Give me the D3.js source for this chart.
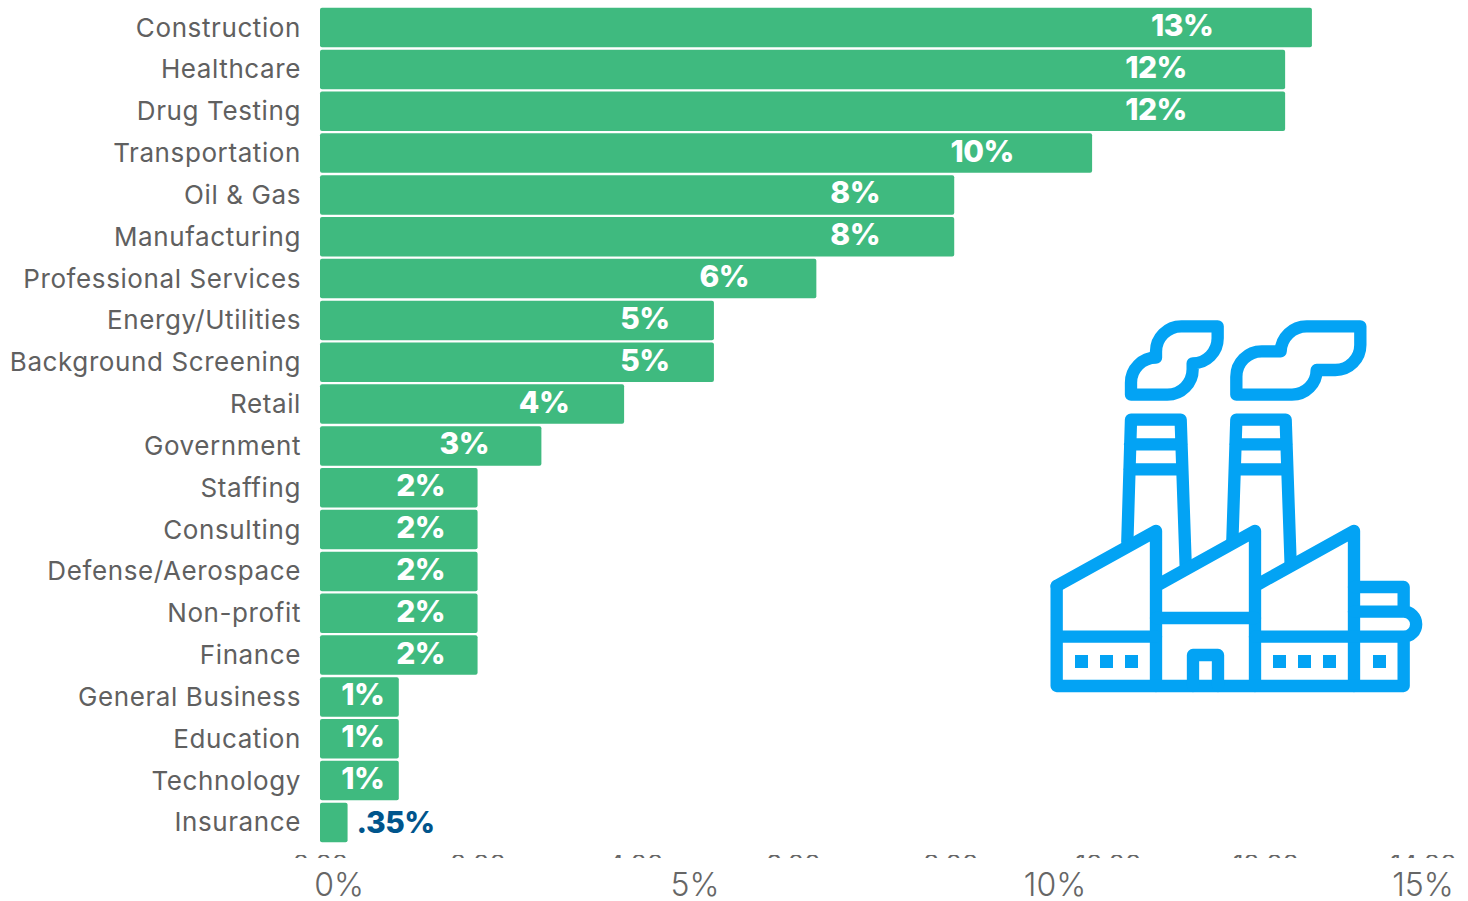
<!DOCTYPE html>
<html>
<head>
<meta charset="utf-8">
<script src="https://cdn.jsdelivr.net/npm/d3@7"></script>
<style>
  html, body { margin: 0; padding: 0; background: #fff; }
  svg { display: block; }
  text { font-family: Inter, "Open Sans", sans-serif; }
</style>
</head>
<body>
<svg id="chart"></svg>
<script>
const categories = ["Construction", "Healthcare", "Drug Testing", "Transportation", "Oil & Gas",
  "Manufacturing", "Professional Services", "Energy/Utilities", "Background Screening", "Retail",
  "Government", "Staffing", "Consulting", "Defense/Aerospace", "Non-profit", "Finance",
  "General Business", "Education", "Technology", "Insurance"];
const values = [12.59, 12.25, 12.25, 9.8, 8.05, 8.05, 6.3, 5, 5, 3.86, 2.81, 2, 2, 2, 2, 2, 1, 1, 1, 0.35];
const valueLabels = ["13%", "12%", "12%", "10%", "8%", "8%", "6%", "5%", "5%", "4%", "3%", "2%", "2%", "2%", "2%", "2%", "1%", "1%", "1%", ".35%"];
const hiddenTicks = [0, 2, 4, 6, 8, 10, 12, 14];
const overlayTicks = [0, 5, 10, 15];

const width = 1468, height = 901;
const svg = d3.select("#chart").attr("width", width).attr("height", height);

const x = d3.scaleLinear().domain([0, 14]).range([320, 1423]);
const y = d3.scaleBand().domain(categories).range([7, 843]).paddingInner(0.055).paddingOuter(0.02);

// pasted % labels sit further left of the bar end the longer the bar gets
const labelInset = d3.scaleLinear()
  .domain([79, 158, 221, 304, 394, 496, 634, 772, 965, 1000])
  .range([36, 57, 77, 80, 69, 92, 99, 110, 129, 130]);

svg.selectAll("rect.bar")
  .data(values)
  .join("rect")
  .attr("class", "bar")
  .attr("x", x(0))
  .attr("y", (d, i) => y(categories[i]))
  .attr("width", d => x(d) - x(0))
  .attr("height", y.bandwidth())
  .attr("rx", 2)
  .attr("fill", "#3fba7f");

svg.selectAll("text.cat")
  .data(categories)
  .join("text")
  .attr("class", "cat")
  .attr("x", 301)
  .attr("y", d => y(d) + y.bandwidth() / 2 + 9)
  .attr("text-anchor", "end")
  .attr("font-size", 26)
  .attr("letter-spacing", 0.6)
  .attr("fill", "#606060")
  .text(d => d);

svg.selectAll("text.val")
  .data(values)
  .join("text")
  .attr("class", "val")
  .attr("x", (d, i) => i === values.length - 1 ? x(d) + 9 : x(d) - labelInset(x(d) - x(0)))
  .attr("y", (d, i) => y(categories[i]) + y.bandwidth() / 2 + (i === values.length - 1 ? 11 : 8.5))
  .attr("text-anchor", (d, i) => i === values.length - 1 ? "start" : "middle")
  .attr("font-size", 30)
  .attr("font-weight", 800)
  .attr("letter-spacing", -0.5)
  .attr("fill", (d, i) => i === values.length - 1 ? "#00558c" : "#fff")
  .text((d, i) => valueLabels[i]);

// original axis labels are covered up, only their tops peek out
svg.append("clipPath").attr("id", "axisClip")
  .append("rect").attr("x", 0).attr("y", 855).attr("width", width).attr("height", 3);

const axis = svg.append("g")
  .attr("clip-path", "url(#axisClip)")
  .append("g")
  .attr("transform", "translate(0,844)")
  .call(d3.axisBottom(x).tickValues(hiddenTicks).tickSize(0).tickPadding(11).tickFormat(d3.format(".2f")));
axis.select(".domain").remove();
axis.selectAll("text")
  .attr("font-size", 26)
  .attr("font-family", "Inter")
  .attr("fill", "#666");

const overlayX = d3.scaleLinear().domain(overlayTicks).range([339, 695, 1055, 1423]);
svg.selectAll("text.overlay")
  .data(overlayTicks)
  .join("text")
  .attr("class", "overlay")
  .attr("x", d => overlayX(d))
  .attr("y", 896)
  .attr("text-anchor", "middle")
  .attr("font-size", 32)
  .attr("font-weight", 300)
  .attr("fill", "#666")
  .text(d => d + "%");

// factory icon, drawn in 3x units
const icon = svg.append("g")
  .attr("transform", "translate(1040,310) scale(0.33333)")
  .attr("fill", "none")
  .attr("stroke", "#03a3f4")
  .attr("stroke-width", 37)
  .attr("stroke-linejoin", "round")
  .attr("stroke-linecap", "round");

const iconPaths = [
  // smoke
  "M273,254 V218 A75,75 0 0 1 348,143 V125 A76,76 0 0 1 424,49 H533 V85 A75,75 0 0 1 458,160 V178 A76,76 0 0 1 382,254 Z",
  "M589,254 V200 A76,76 0 0 1 665,124 H722 A78,78 0 0 1 800,49 H961 V105 A75,75 0 0 1 886,180 H830 A74,74 0 0 1 756,254 Z",
  // chimneys
  "M262,695 L273,329 H422 L437,765 M270,403 H425 M268,478 H427",
  "M577,695 L589,329 H737 L752,765 M586,403 H740 M584,478 H742",
  // building
  "M50,828 L348,663 V1128 M348,828 L645,663 V1128 M645,828 L942,663 V1128",
  "M50,828 V1128 H1091 V980 M50,980 H348 M348,924 H645 M645,980 H1091 A37.5,37.5 0 0 0 1091,905 H942 M942,831 H1091 V905",
  "M459,1128 V1035 H534 V1128"
];
icon.selectAll("path").data(iconPaths).join("path").attr("d", d => d);

const iconWindows = [105, 180, 255, 699, 774, 849, 999];
svg.append("g")
  .attr("transform", "translate(1040,310) scale(0.33333)")
  .selectAll("rect")
  .data(iconWindows)
  .join("rect")
  .attr("x", d => d).attr("y", 1035).attr("width", 39).attr("height", 39)
  .attr("fill", "#03a3f4");
</script>
</body>
</html>
